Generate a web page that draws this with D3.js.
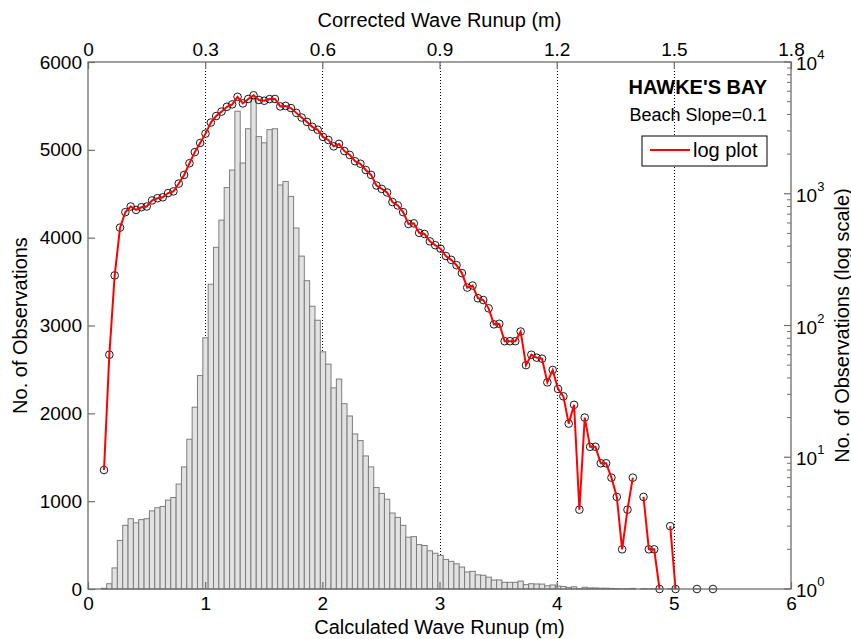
<!DOCTYPE html>
<html>
<head>
<meta charset="utf-8">
<script src="https://cdn.jsdelivr.net/npm/d3@7"></script>
<style>
  body { margin: 0; background: #fff; }
  svg text { font-family: "Liberation Sans", Arial, sans-serif; fill: #000; }
</style>
</head>
<body>
<svg id="chart" width="851" height="639"></svg>
<script>
// histogram bins (calculated runup, m)
var binStart = 0.1138,
    binWidth = 0.04559;

// counts per bin
var counts = [
  8, 60, 240, 553, 725, 800, 754, 790, 800, 890,
  925, 940, 1012, 1042, 1195, 1390, 1705, 2070, 2430, 2860,
  3470, 3890, 4200, 4570, 4770, 5440, 4850, 5240, 5590, 5150,
  5080, 5230, 5240, 4600, 4640, 4470, 4110, 3790, 3510, 3220,
  3060, 2700, 2560, 2290, 2390, 2110, 1970, 1765, 1690, 1515,
  1390, 1155, 1088, 1022, 865, 815, 725, 590, 596, 505,
  495, 435, 407, 383, 337, 315, 287, 250, 194, 201,
  161, 156, 135, 102, 103, 76, 76, 76, 90, 50,
  60, 57, 56, 37, 46, 33, 29, 18, 25, 4,
  20, 12, 12, 9, 9, 7, 5, 2, 4, 7,
  0, 5, 2, 2, 1, 0, 3, 1, 0, 0,
  0, 1, 0, 0, 1
];

var bottomTicks = [0, 1, 2, 3, 4, 5, 6];
var topTicks = [0, 0.3, 0.6, 0.9, 1.2, 1.5, 1.8];
var leftTicks = [0, 1000, 2000, 3000, 4000, 5000, 6000];
var rightTicks = [1, 10, 100, 1000, 10000];

var svg = d3.select("#chart"),
    pL = 88, pR = 791, pT = 62, pB = 589;

var x = d3.scaleLinear().domain([0, 6]).range([pL, pR]);
var xTop = d3.scaleLinear().domain([0, 1.8]).range([pL, pR]);
var y = d3.scaleLinear().domain([0, 6000]).range([pB, pT]);
var yLog = d3.scaleLog().domain([1, 10000]).range([pB, pT]);

var bins = counts.map(function(c, i) {
  return { x0: binStart + i * binWidth, x1: binStart + (i + 1) * binWidth, count: c };
});

// grid (from top axis)
svg.append("g")
  .selectAll("line")
  .data(topTicks.slice(1, -1))
  .enter()
  .append("line")
  .attr("x1", function(d) { return Math.round(xTop(d)) + 0.5; })
  .attr("x2", function(d) { return Math.round(xTop(d)) + 0.5; })
  .attr("y1", pT)
  .attr("y2", pB)
  .attr("stroke", "#000")
  .attr("stroke-width", 1)
  .attr("stroke-dasharray", "1,2");

// histogram
svg.append("g")
  .selectAll("rect")
  .data(bins)
  .enter()
  .append("rect")
  .attr("x", function(d) { return x(d.x0); })
  .attr("width", function(d) { return x(d.x1) - x(d.x0); })
  .attr("y", function(d) { return y(d.count); })
  .attr("height", function(d) { return pB - y(d.count); })
  .attr("fill", "#e2e2e2")
  .attr("stroke", "#7d7d7d")
  .attr("stroke-width", 1);

// log plot
var mid = function(d) { return x((d.x0 + d.x1) / 2); };

svg.append("g")
  .selectAll("circle")
  .data(bins.filter(function(d) { return d.count > 0; }))
  .enter()
  .append("circle")
  .attr("cx", mid)
  .attr("cy", function(d) { return yLog(d.count); })
  .attr("r", 3.8)
  .attr("fill", "none")
  .attr("stroke", "#000")
  .attr("stroke-width", 0.9);

var line = d3.line()
  .defined(function(d) { return d.count > 0; })
  .x(mid)
  .y(function(d) { return yLog(d.count); });

svg.append("path")
  .datum(bins)
  .attr("d", line)
  .attr("fill", "none")
  .attr("stroke", "#ff0000")
  .attr("stroke-width", 2);

// axes
svg.append("rect")
  .attr("x", pL).attr("y", pT)
  .attr("width", pR - pL).attr("height", pB - pT)
  .attr("fill", "none")
  .attr("stroke", "#6e6e6e")
  .attr("stroke-width", 1.3);

var axB = svg.append("g")
  .attr("transform", "translate(0," + pB + ")")
  .call(d3.axisBottom(x).tickValues(bottomTicks).tickFormat(d3.format("d")).tickSize(-7).tickSizeOuter(0).tickPadding(8));
var axT = svg.append("g")
  .attr("transform", "translate(0," + pT + ")")
  .call(d3.axisTop(xTop).tickValues(topTicks).tickFormat(function(d) { return d === 0 ? "0" : d3.format(".1f")(d); }).tickSize(-7).tickSizeOuter(0).tickPadding(6));
var axL = svg.append("g")
  .attr("transform", "translate(" + pL + ",0)")
  .call(d3.axisLeft(y).tickValues(leftTicks).tickFormat(d3.format("d")).tickSize(-7).tickSizeOuter(0).tickPadding(6));

[axB, axT, axL].forEach(function(a) {
  a.select(".domain").remove();
  a.selectAll(".tick line").attr("stroke", "#6e6e6e").attr("stroke-width", 1.2);
  a.selectAll(".tick text").attr("font-size", 19).attr("font-family", null);
});

// right log axis, minor ticks
var minor = [];
rightTicks.slice(0, -1).forEach(function(p) {
  for (var k = 2; k <= 9; k++) minor.push(p * k);
});
var axR = svg.append("g").attr("transform", "translate(" + pR + ",0)");
axR.selectAll(".minor")
  .data(minor)
  .enter()
  .append("line")
  .attr("x1", -4).attr("x2", 0)
  .attr("y1", function(d) { return yLog(d); })
  .attr("y2", function(d) { return yLog(d); })
  .attr("stroke", "#6e6e6e");
axR.selectAll(".major")
  .data(rightTicks)
  .enter()
  .append("line")
  .attr("x1", -7).attr("x2", 0)
  .attr("y1", function(d) { return yLog(d); })
  .attr("y2", function(d) { return yLog(d); })
  .attr("stroke", "#6e6e6e")
  .attr("stroke-width", 1.2);
var rl = axR.selectAll(".lbl")
  .data(rightTicks)
  .enter()
  .append("text")
  .attr("x", 5)
  .attr("y", function(d) { return yLog(d) + 8; })
  .attr("font-size", 19);
rl.append("tspan").text("10");
rl.append("tspan")
  .attr("dy", -11)
  .attr("font-size", 13)
  .text(function(d) { return Math.round(Math.log10(d)); });

// axis titles
svg.append("text")
  .attr("x", (pL + pR) / 2).attr("y", 27)
  .attr("text-anchor", "middle").attr("font-size", 20)
  .text("Corrected Wave Runup (m)");
svg.append("text")
  .attr("x", (pL + pR) / 2).attr("y", 634)
  .attr("text-anchor", "middle").attr("font-size", 20)
  .text("Calculated Wave Runup (m)");
svg.append("text")
  .attr("transform", "translate(27," + (pT + pB) / 2 + ") rotate(-90)")
  .attr("text-anchor", "middle").attr("font-size", 20)
  .text("No. of Observations");
svg.append("text")
  .attr("transform", "translate(849," + (pT + pB) / 2 + ") rotate(-90)")
  .attr("text-anchor", "middle").attr("font-size", 20)
  .text("No. of Observations (log scale)");

// annotations
svg.append("text")
  .attr("x", 767).attr("y", 94)
  .attr("text-anchor", "end").attr("font-size", 20).attr("font-weight", "bold")
  .text("HAWKE'S BAY");
svg.append("text")
  .attr("x", 767).attr("y", 121)
  .attr("text-anchor", "end").attr("font-size", 18)
  .text("Beach Slope=0.1");

var legend = svg.append("g").attr("transform", "translate(642,136)");
legend.append("rect")
  .attr("width", 125).attr("height", 30)
  .attr("fill", "#fff").attr("stroke", "#000");
legend.append("line")
  .attr("x1", 8).attr("x2", 48).attr("y1", 14).attr("y2", 14)
  .attr("stroke", "#ff0000").attr("stroke-width", 2);
legend.append("text")
  .attr("x", 51).attr("y", 21)
  .attr("font-size", 20)
  .text("log plot");
</script>
</body>
</html>
